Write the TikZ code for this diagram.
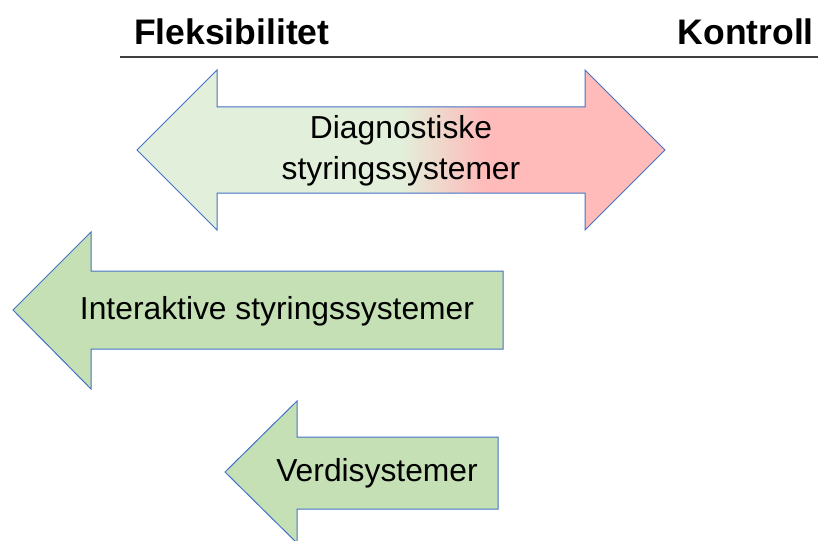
\documentclass[tikz,border=0pt]{standalone}
\usepackage{fontspec}
\setmainfont{Liberation Sans}
\definecolor{styr_line}{RGB}{68, 114, 196}
\definecolor{styr_green}{RGB}{197, 224, 180}
\definecolor{styr_light}{RGB}{226, 239, 218}
\definecolor{styr_pink}{RGB}{255, 186, 186}
\usetikzlibrary{positioning}
\pgfdeclarehorizontalshading{diagshade}{100bp}{color(0bp)=(styr_light); color(50bp)=(styr_light); color(58bp)=(styr_pink); color(100bp)=(styr_pink)}
\tikzset{
  head/.style={font=\bfseries\fontsize{35.5}{40}\selectfont},
  arrowtext/.style={font=\fontsize{31.8}{41}\selectfont, align=center, inner sep=0pt},
  arrowbody/.style={draw=styr_line, line width=1pt, line join=miter}
}

\begin{document}
\begin{tikzpicture}[x=1pt, y=-1pt]
        \useasboundingbox (0,0) rectangle (818,540);
        \clip (0,0) rectangle (818,540);

        % Header : the two ends of the scale
        \node[head, anchor=base west, inner sep=0pt] (flex) at (134,45) {Fleksibilitet};
        \node[head, anchor=base east, inner sep=0pt] (kontroll) at (814,45) {Kontroll};
        \coordinate (rule_l) at (120,57);
        \coordinate (rule_r) at (818,57);
        \draw[black!75, line width=1.5pt] (rule_l) -- (rule_r);

        % Arrow 1 : both ways, green to red
        \shade[arrowbody, shading=diagshade]
          (137,150) -- (217,70) -- (217,107) -- (585,107) -- (585,70) -- (665,150)
          -- (585,230) -- (585,193) -- (217,193) -- (217,230) -- cycle;
        \node[arrowtext] (diag) at (401,151) {Diagnostiske\\styringssystemer};

        % Arrow 2 : pointing left
        \draw[arrowbody, fill=styr_green]
          (13,310) -- (91,232) -- (91,271) -- (503,271) -- (503,349) -- (91,349) -- (91,389) -- cycle;
        \node[arrowtext] (inter) at (277,311) {Interaktive styringssystemer};

        % Arrow 3 : pointing left, cut at the bottom
        \draw[arrowbody, fill=styr_green]
          (225,472) -- (297,401) -- (297,437) -- (498,437) -- (498,509) -- (297,509) -- (297,543) -- cycle;
        \node[arrowtext] (verdi) at (377,473) {Verdisystemer};
      \end{tikzpicture}
\end{document}
